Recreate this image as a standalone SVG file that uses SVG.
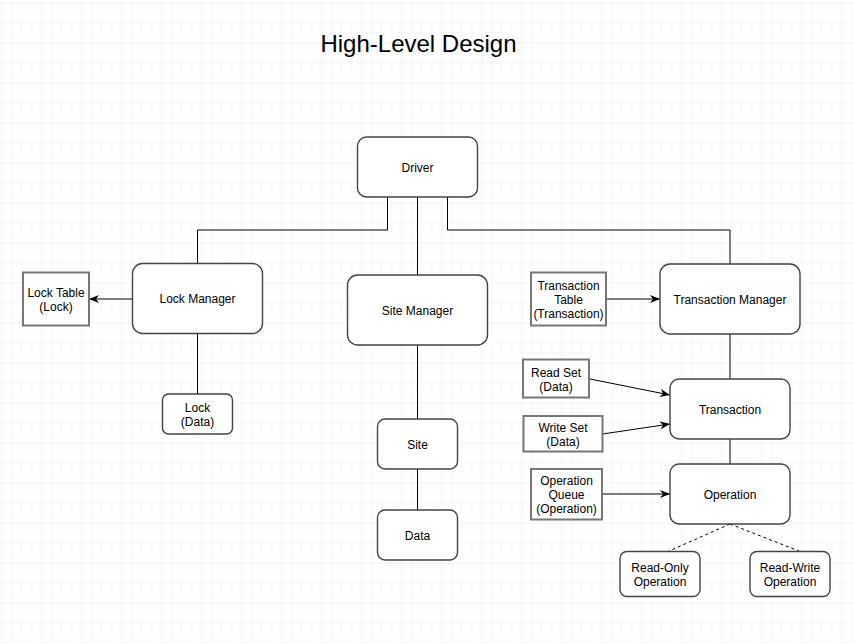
<svg xmlns="http://www.w3.org/2000/svg" width="853" height="643" viewBox="0 0 853 643">
  <defs>
    <pattern id="grid" x="1.5" y="2.5" width="40" height="40" patternUnits="userSpaceOnUse">
      <path d="M10,0 V40 M20,0 V40 M30,0 V40 M0,10 H40 M0,20 H40 M0,30 H40" stroke="#f4f4f4" stroke-width="1" fill="none"/>
      <path d="M0,0 V40 M0,0 H40" stroke="#e4e4e4" stroke-width="1" fill="none"/>
    </pattern>
    <marker id="arrow" viewBox="0 0 10 8" refX="10" refY="4" markerWidth="10" markerHeight="8" markerUnits="userSpaceOnUse" orient="auto">
      <path d="M0,0 L10,4 L0,8 L3,4 Z" fill="#000"/>
    </marker>
    <style>
      .rnd { fill: #fff; stroke: #444; stroke-width: 1.4; }
      .sq { fill: #fff; stroke: #777; stroke-width: 2; }
      .lbl { font-family: "Liberation Sans", Arial, sans-serif; font-size: 12px; fill: #000; text-anchor: middle; }
      .title { font-family: "Liberation Sans", Arial, sans-serif; font-size: 24px; fill: #000; text-anchor: middle; }
      .edge { fill: none; stroke: #000; stroke-width: 1; }
      .dash { fill: none; stroke: #000; stroke-width: 1; stroke-dasharray: 3 3; }
    </style>
  </defs>
  <rect x="0" y="0" width="853" height="643" fill="#fff"/>
  <rect x="0" y="0" width="853" height="643" fill="url(#grid)"/>

  <text class="title" x="418.5" y="52">High-Level Design</text>

  <g id="connectors">
    <path class="edge" d="M387.5,197 V230 H197.5 V263.5"/>
    <path class="edge" d="M417.5,197 V275"/>
    <path class="edge" d="M447.5,197 V230 H730 V264"/>
    <path class="edge" d="M132.5,299 H89" marker-end="url(#arrow)"/>
    <path class="edge" d="M197.5,333.5 V394"/>
    <path class="edge" d="M417.5,345 V419"/>
    <path class="edge" d="M417.5,469 V510"/>
    <path class="edge" d="M606,299 H660" marker-end="url(#arrow)"/>
    <path class="edge" d="M730,334 V379"/>
    <path class="edge" d="M590,379 L670,395" marker-end="url(#arrow)"/>
    <path class="edge" d="M602.5,434 L670,424" marker-end="url(#arrow)"/>
    <path class="edge" d="M730,439 V464"/>
    <path class="edge" d="M602,494 H670" marker-end="url(#arrow)"/>
    <path class="dash" d="M730,524 L668,551.5"/>
    <path class="dash" d="M730,524 L800,551.5"/>
  </g>

  <g id="driver">
    <rect class="rnd" x="357.5" y="137" width="120" height="60" rx="9"/>
    <text class="lbl" x="417.5" y="171.5">Driver</text>
  </g>

  <g id="lock-manager">
    <rect class="rnd" x="132.5" y="263.5" width="130" height="70" rx="10"/>
    <text class="lbl" x="197.5" y="303">Lock Manager</text>
  </g>

  <g id="lock-table">
    <rect class="sq" x="23" y="272.5" width="66" height="53"/>
    <text class="lbl" x="56" y="297">Lock Table</text>
    <text class="lbl" x="56" y="311">(Lock)</text>
  </g>

  <g id="lock-data">
    <rect class="rnd" x="162.5" y="394" width="70" height="40" rx="6"/>
    <text class="lbl" x="197.5" y="411.5">Lock</text>
    <text class="lbl" x="197.5" y="425.5">(Data)</text>
  </g>

  <g id="site-manager">
    <rect class="rnd" x="347.5" y="275" width="140" height="70" rx="10"/>
    <text class="lbl" x="417.5" y="314.5">Site Manager</text>
  </g>

  <g id="site">
    <rect class="rnd" x="377.5" y="419" width="80" height="50" rx="7.5"/>
    <text class="lbl" x="417.5" y="448.5">Site</text>
  </g>

  <g id="data">
    <rect class="rnd" x="377.5" y="510" width="80" height="50" rx="7.5"/>
    <text class="lbl" x="417.5" y="539.5">Data</text>
  </g>

  <g id="transaction-manager">
    <rect class="rnd" x="660" y="264" width="140" height="70" rx="10"/>
    <text class="lbl" x="730" y="303.5">Transaction Manager</text>
  </g>

  <g id="transaction-table">
    <rect class="sq" x="531" y="272.5" width="75" height="53"/>
    <text class="lbl" x="568.5" y="290">Transaction</text>
    <text class="lbl" x="568.5" y="303.5">Table</text>
    <text class="lbl" x="568.5" y="317.5">(Transaction)</text>
  </g>

  <g id="transaction">
    <rect class="rnd" x="670" y="379" width="120" height="60" rx="9"/>
    <text class="lbl" x="730" y="413.5">Transaction</text>
  </g>

  <g id="read-set">
    <rect class="sq" x="523" y="359.5" width="66" height="38"/>
    <text class="lbl" x="556" y="377">Read Set</text>
    <text class="lbl" x="556" y="391">(Data)</text>
  </g>

  <g id="write-set">
    <rect class="sq" x="523.5" y="416" width="79" height="35.5"/>
    <text class="lbl" x="563" y="431.5">Write Set</text>
    <text class="lbl" x="563" y="446">(Data)</text>
  </g>

  <g id="operation">
    <rect class="rnd" x="670" y="464" width="120" height="60" rx="9"/>
    <text class="lbl" x="730" y="498.5">Operation</text>
  </g>

  <g id="operation-queue">
    <rect class="sq" x="531" y="469" width="71" height="50.5"/>
    <text class="lbl" x="566.5" y="485">Operation</text>
    <text class="lbl" x="566.5" y="499">Queue</text>
    <text class="lbl" x="566.5" y="513">(Operation)</text>
  </g>

  <g id="read-only-operation">
    <rect class="rnd" x="620" y="551.5" width="80" height="45" rx="7"/>
    <text class="lbl" x="660" y="572">Read-Only</text>
    <text class="lbl" x="660" y="586">Operation</text>
  </g>

  <g id="read-write-operation">
    <rect class="rnd" x="750" y="551.5" width="80" height="45" rx="7"/>
    <text class="lbl" x="790" y="572">Read-Write</text>
    <text class="lbl" x="790" y="586">Operation</text>
  </g>
</svg>
